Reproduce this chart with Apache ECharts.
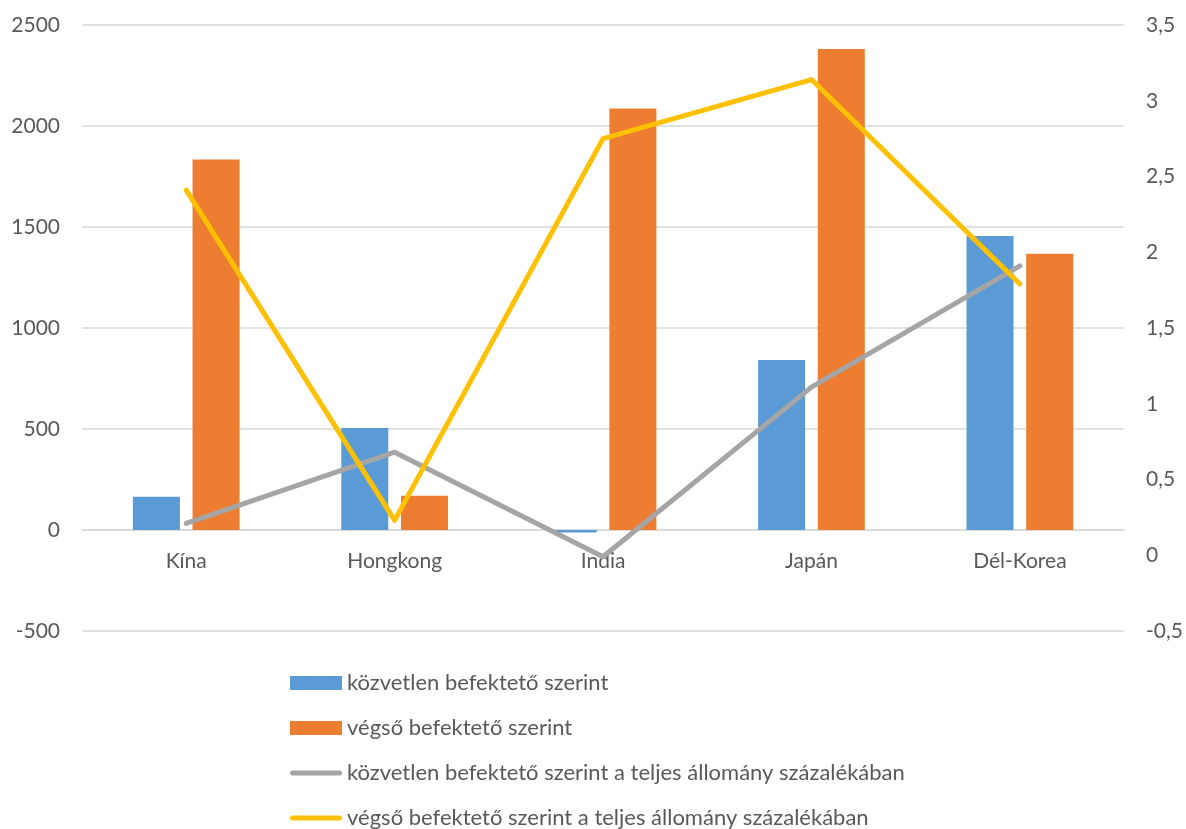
<!DOCTYPE html>
<html>
<head>
<meta charset="utf-8">
<script src="https://cdn.jsdelivr.net/npm/echarts@6/dist/echarts.min.js"></script>
<style>
  html, body { margin: 0; padding: 0; background: #fff; }
  #chart { width: 1186px; height: 829px; }
</style>
</head>
<body>
<div id="chart"></div>
<script>
  // kategóriák és adatok
  var categories = ['Kína', 'Hongkong', 'India', 'Japán', 'Dél-Korea']
  var kozvetlen = [164, 505, -12, 841, 1455]
  var vegso = [1834, 170, 2087, 2381, 1367]
  var kozvetlenSzazalek = [0.21, 0.68, -0.01, 1.11, 1.91]
  var vegsoSzazalek = [2.41, 0.23, 2.75, 3.14, 1.79]
  var seriesNames = [
    'közvetlen befektető szerint',
    'végső befektető szerint',
    'közvetlen befektető szerint a teljes állomány százalékában',
    'végső befektető szerint a teljes állomány százalékában'
  ]

  var fontFamily = 'Lato, "Open Sans", sans-serif'
  var fontSize = 21
  var textColor = '#595959'
  var gridColor = '#d9d9d9'
  // vékony vonal ikon a vonalas sorozatok jelmagyarázatához
  var lineIcon = 'path://M2.5,0 L49.5,0 A2.5,2.5 0 0 1 49.5,5 L2.5,5 A2.5,2.5 0 0 1 2.5,0 Z'

  var myChart = echarts.init(document.getElementById('chart'))
  var option = {
    animation: false,
    textStyle: { fontFamily: fontFamily },
    grid: {
      left: 82,
      right: 60,
      top: 25,
      bottom: 198
    },
    legend: {
      orient: 'vertical',
      left: 290,
      top: 672,
      padding: 0,
      itemGap: 23,
      itemWidth: 52,
      itemHeight: 14,
      textStyle: { color: textColor, fontSize: 22, fontFamily: fontFamily },
      data: [
        { name: seriesNames[0], icon: 'rect' },
        { name: seriesNames[1], icon: 'rect' },
        { name: seriesNames[2], icon: lineIcon },
        { name: seriesNames[3], icon: lineIcon }
      ]
    },
    xAxis: {
      type: 'category',
      data: categories,
      position: 'bottom',
      offset: -101,   // a 0 értékhez igazítva
      axisTick: { show: false },
      axisLine: { onZero: false, lineStyle: { color: gridColor, width: 1.5 } },
      axisLabel: { color: textColor, fontSize: fontSize, margin: 21 }
    },
    yAxis: [
      {
        type: 'value',
        min: -500,
        max: 2500,
        interval: 500,
        axisLine: { show: false },
        axisTick: { show: false },
        splitLine: { lineStyle: { color: gridColor, width: 1.5 } },
        axisLabel: {
          color: textColor,
          fontSize: fontSize,
          margin: 22,
          formatter: function (v) {
            return String(v)
          }
        }
      },
      {
        type: 'value',
        min: -0.5,
        max: 3.5,
        interval: 0.5,
        axisLine: { show: false },
        axisTick: { show: false },
        splitLine: { show: false },
        axisLabel: {
          color: textColor,
          fontSize: fontSize,
          margin: 22,
          formatter: function (v) {
            return String(v).replace('.', ',')
          }
        }
      }
    ],
    series: [
      {
        name: seriesNames[0],
        type: 'bar',
        barWidth: 47,
        barGap: '27%',
        itemStyle: { color: '#5b9bd5' },
        data: kozvetlen
      },
      {
        name: seriesNames[1],
        type: 'bar',
        barWidth: 47,
        barGap: '27%',
        itemStyle: { color: '#ed7d31' },
        data: vegso
      },
      {
        name: seriesNames[2],
        type: 'line',
        yAxisIndex: 1,
        symbol: 'none',
        lineStyle: { color: '#a5a5a5', width: 5, cap: 'round', join: 'round' },
        itemStyle: { color: '#a5a5a5' },
        data: kozvetlenSzazalek
      },
      {
        name: seriesNames[3],
        type: 'line',
        yAxisIndex: 1,
        symbol: 'none',
        lineStyle: { color: '#ffc000', width: 5, cap: 'round', join: 'round' },
        itemStyle: { color: '#ffc000' },
        data: vegsoSzazalek
      }
    ]
  }
  myChart.setOption(option)
</script>
</body>
</html>
